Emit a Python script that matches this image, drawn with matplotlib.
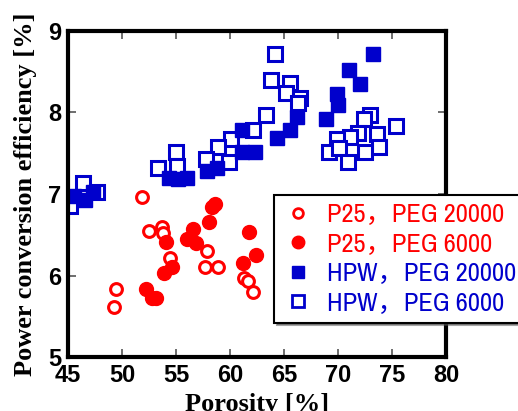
import matplotlib
matplotlib.use("Agg")
import matplotlib.pyplot as plt
from matplotlib.lines import Line2D
from matplotlib import font_manager

# P25, PEG 20000 (open red circles)
p25_20000_x = [51.9, 52.5, 53.7, 53.8, 54.5, 57.9, 57.7, 58.9, 61.3, 61.7, 62.1, 49.5, 49.3]
p25_20000_y = [6.96, 6.55, 6.60, 6.52, 6.22, 6.30, 6.11, 6.11, 5.97, 5.93, 5.80, 5.83, 5.62]
# P25, PEG 6000 (filled red circles)
p25_6000_x = [58.6, 58.3, 58.1, 56.6, 56.0, 56.9, 54.1, 61.8, 62.4, 61.2, 54.6, 53.9, 52.2, 52.8, 53.2]
p25_6000_y = [6.88, 6.84, 6.66, 6.57, 6.45, 6.40, 6.41, 6.54, 6.25, 6.16, 6.11, 6.03, 5.83, 5.73, 5.73]
# HPW, PEG 20000 (filled blue squares)
hpw_20000_x = [61.1, 61.1, 62.3, 64.4, 66.2, 65.6, 57.9, 58.8, 54.4, 55.2, 56.0,
               45.6, 46.6, 47.3, 73.2, 71.0, 72.0, 69.9, 70.0, 68.9]
hpw_20000_y = [7.79, 7.51, 7.51, 7.69, 7.94, 7.79, 7.28, 7.32, 7.20, 7.18, 7.20,
               6.97, 6.93, 7.02, 8.71, 8.52, 8.35, 8.23, 8.09, 7.92]
# HPW, PEG 6000 (open blue squares)
hpw_6000_x = [64.2, 63.8, 65.6, 65.2, 66.5, 66.3, 63.3, 62.1, 60.1, 58.9, 57.8, 59.9,
              55.0, 53.3, 55.1, 46.4, 45.2, 47.7, 73.0, 72.4, 75.4, 71.9, 73.6, 71.1,
              69.9, 73.8, 69.2, 70.1, 72.5, 70.9]
hpw_6000_y = [8.71, 8.40, 8.36, 8.24, 8.18, 8.12, 7.97, 7.79, 7.68, 7.58, 7.43, 7.39,
              7.51, 7.32, 7.34, 7.14, 6.85, 7.02, 7.97, 7.92, 7.83, 7.75, 7.74, 7.70,
              7.68, 7.58, 7.52, 7.56, 7.52, 7.39]

legend_labels = ["P25\uff0cPEG 20000", "P25\uff0cPEG 6000", "HPW\uff0cPEG 20000", "HPW\uff0cPEG 6000"]
x_ticks = [45, 50, 55, 60, 65, 70, 75, 80]
y_ticks = [5, 6, 7, 8, 9]

RED = "#ff0000"
BLUE = "#0000cc"

names = {f.name for f in font_manager.fontManager.ttflist}
narrow = None
for cand in ["Liberation Sans Narrow", "Arial Narrow", "Archivo Narrow", "PT Sans Narrow",
             "Pragati Narrow", "Roboto Condensed", "IBM Plex Sans Condensed", "Liberation Sans"]:
    if cand in names:
        narrow = cand
        break
leg_family = [narrow, "Noto Sans CJK SC"]

fig = plt.figure(figsize=(5.18, 4.11), dpi=100)
ax = fig.add_axes([0.131, 0.131, 0.730, 0.794])

ax.plot(hpw_6000_x, hpw_6000_y, ls="none", marker="s", ms=10, mfc="white", mec=BLUE, mew=2.2)
ax.plot(hpw_20000_x, hpw_20000_y, ls="none", marker="s", ms=10.5, mfc=BLUE, mec=BLUE, mew=1)
ax.plot(p25_20000_x, p25_20000_y, ls="none", marker="o", ms=8.5, mfc="white", mec=RED, mew=2.2)
ax.plot(p25_6000_x, p25_6000_y, ls="none", marker="o", ms=10, mfc=RED, mec=RED, mew=1)

ax.set_xlim(45, 80)
ax.set_ylim(5, 9)
ax.set_xticks(x_ticks)
ax.set_yticks(y_ticks)
ax.tick_params(direction="in", top=True, right=True, length=6, width=1.2, color="#555555",
               labelsize=17, pad=5)
for lab in ax.get_xticklabels() + ax.get_yticklabels():
    lab.set_fontweight("bold")
    lab.set_family("Liberation Sans")
for s in ax.spines.values():
    s.set_linewidth(3)

ax.set_xlabel("Porosity [%]", family="Liberation Serif", fontweight="bold", fontsize=19, labelpad=4.5)
ax.set_ylabel("Power conversion efficiency [%]", family="Liberation Serif", fontweight="bold",
              fontsize=19, labelpad=7.5)

handles = [
    Line2D([], [], ls="none", marker="o", ms=7, mfc="white", mec=RED, mew=2),
    Line2D([], [], ls="none", marker="o", ms=9, mfc=RED, mec=RED),
    Line2D([], [], ls="none", marker="s", ms=9, mfc=BLUE, mec=BLUE),
    Line2D([], [], ls="none", marker="s", ms=8, mfc="white", mec=BLUE, mew=2),
]
leg = fig.legend(handles, legend_labels, loc="upper left", bbox_to_anchor=(274 / 518, 1 - 195 / 411),
                 frameon=True, shadow=True, fancybox=False, framealpha=1, edgecolor="black",
                 prop={"family": leg_family, "size": 19}, borderaxespad=0,
                 handletextpad=0.5, labelspacing=0.25, borderpad=0.3, handlelength=1.2)
leg.get_frame().set_linewidth(1.5)
colors = [RED, RED, BLUE, BLUE]
for t, c in zip(leg.get_texts(), colors):
    t.set_color(c)

fig.savefig("out.png", dpi=100)
